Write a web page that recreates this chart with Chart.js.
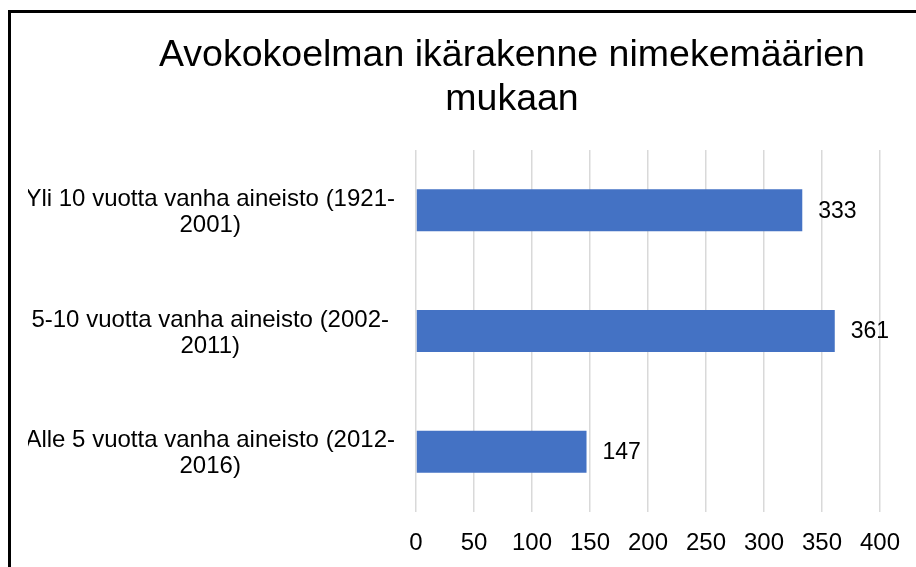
<!DOCTYPE html>
<html>
<head>
<meta charset="utf-8">
<script src="https://cdn.jsdelivr.net/npm/chart.js@4/dist/chart.umd.min.js"></script>
<style>
  html, body { margin: 0; padding: 0; background: #fff; overflow: hidden; }
  #frame {
    position: absolute; left: 8px; top: 10px;
    border-left: 3px solid #000; border-top: 3px solid #000;
    width: 1002px; height: 560px;
  }
  canvas { display: block; }
</style>
</head>
<body>
<div id="frame"><canvas id="myChart" width="1002" height="560"></canvas></div>
<script>
const labels = [
  ['Yli 10 vuotta vanha aineisto (1921-', '2001)'],
  ['5-10 vuotta vanha aineisto (2002-', '2011)'],
  ['Alle 5 vuotta vanha aineisto (2012-', '2016)'],
];
const values = [333, 361, 147];
const title = ['Avokokoelman ikärakenne nimekemäärien', 'mukaan'];

const FONT = "'Liberation Sans', Arial, sans-serif";

// otsikko keskitetään koko kehyksen mukaan, ei kaavioalueen
const centeredTitle = {
  id: 'centeredTitle',
  afterDraw(chart) {
    const ctx = chart.ctx;
    ctx.save();
    ctx.font = '37.5px ' + FONT;
    ctx.fillStyle = '#000';
    ctx.textAlign = 'center';
    ctx.textBaseline = 'alphabetic';
    title.forEach((line, i) => {
      ctx.fillText(line, chart.width / 2, 53 + i * 44);
    });
    ctx.restore();
  }
};

// arvot palkkien perään
const valueLabels = {
  id: 'valueLabels',
  afterDatasetsDraw(chart) {
    const ctx = chart.ctx;
    const meta = chart.getDatasetMeta(0);
    ctx.save();
    ctx.font = '23px ' + FONT;
    ctx.fillStyle = '#000';
    ctx.textAlign = 'left';
    ctx.textBaseline = 'middle';
    meta.data.forEach((bar, i) => {
      ctx.fillText(String(values[i]), bar.x + 16, bar.y + 1);
    });
    ctx.restore();
  }
};

const data = {
  labels: labels,
  datasets: [{
    data: values,
    backgroundColor: '#4472C4',
    barPercentage: 0.348,
    categoryPercentage: 1,
  }]
};

const config = {
  type: 'bar',
  data,
  plugins: [valueLabels, centeredTitle],
  options: {
    indexAxis: 'y',
    responsive: false,
    animation: false,
    layout: { padding: { left: 17, right: 133, top: 137, bottom: 15 } },
    plugins: {
      legend: { display: false },
      tooltip: { enabled: false },
      title: { display: false }
    },
    scales: {
      x: {
        min: 0,
        max: 400,
        afterFit: s => { s.height = 46; },
        ticks: { stepSize: 50, color: '#000', padding: 17, font: { family: FONT, size: 24 } },
        grid: { color: '#d9d9d9', lineWidth: 1.5, drawTicks: false },
        border: { display: false }
      },
      y: {
        afterFit: s => { s.width = 388; s.paddingTop = 0; s.paddingBottom = 0; },
        ticks: {
          color: '#000', padding: 21, crossAlign: 'center', labelOffset: 2,
          font: { family: FONT, size: 24, lineHeight: 1.083 }
        },
        grid: { display: false, drawTicks: false },
        border: { display: false }
      }
    }
  }
};

const myChart = new Chart(document.getElementById('myChart'), config);
</script>
</body>
</html>
